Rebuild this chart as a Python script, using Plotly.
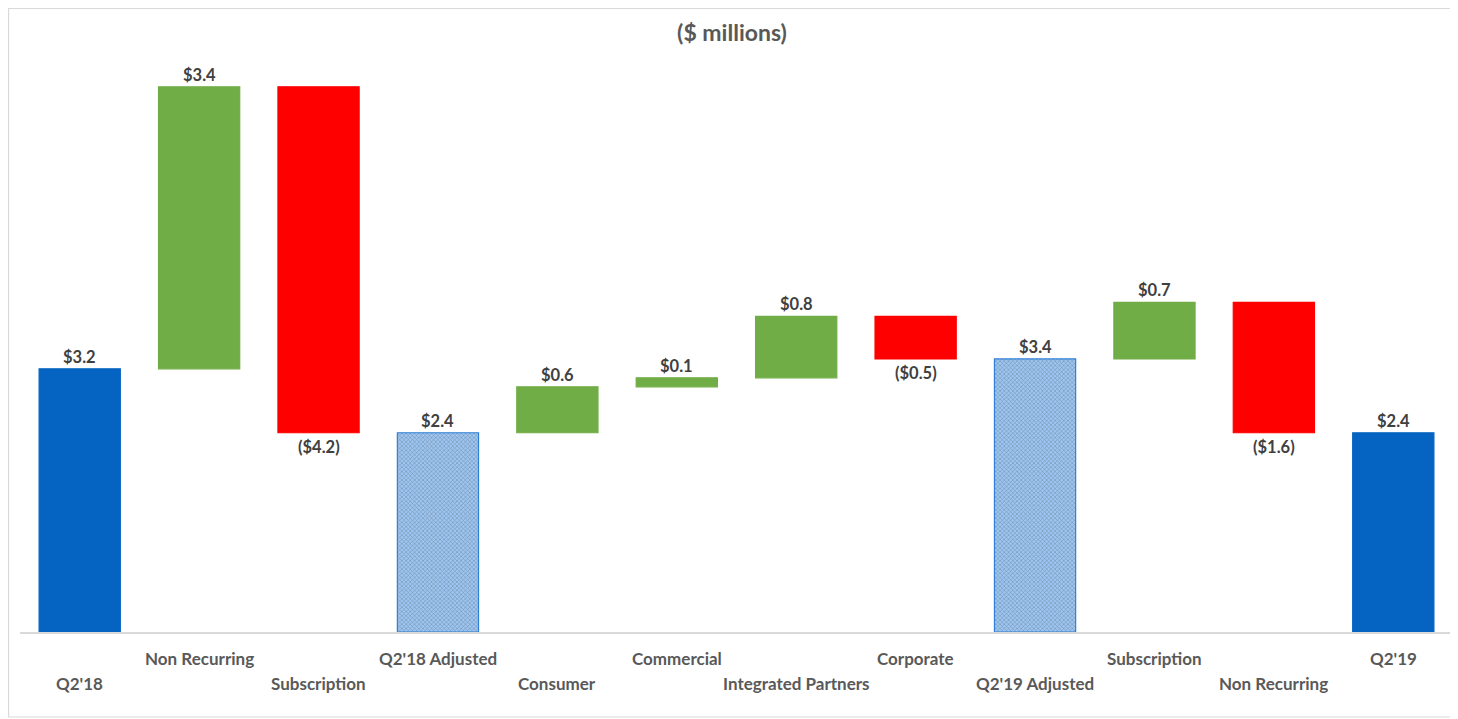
import plotly.graph_objects as go

categories = ["Q2'18", "Non Recurring", "Subscription", "Q2'18 Adjusted", "Consumer",
              "Commercial", "Integrated Partners", "Corporate", "Q2'19 Adjusted",
              "Subscription", "Non Recurring", "Q2'19"]
measures = ["absolute", "relative", "relative", "total", "relative", "relative",
            "relative", "relative", "total", "relative", "relative", "total"]
values = [3.21, 3.44, -4.22, None, 0.56, 0.11, 0.75, -0.52, None, 0.69, -1.59, None]
value_labels = ["$3.2", "$3.4", "($4.2)", "$2.4", "$0.6", "$0.1", "$0.8", "($0.5)",
                "$3.4", "$0.7", "($1.6)", "$2.4"]

# compute waterfall geometry
bases, heights = [], []
running = 0.0
for m, v in zip(measures, values):
    if m == "absolute":
        running = v
        bases.append(0.0); heights.append(v)
    elif m == "total":
        bases.append(0.0); heights.append(running)
    else:
        bases.append(running); heights.append(v)
        running += v

BLUE = "#0563c1"
GREEN = "#70ad47"
RED = "#ff0000"
colors, shapes, fgcolors, bgcolors, lines = [], [], [], [], []
for c, m, h in zip(categories, measures, heights):
    if m in ("absolute", "total"):
        if "Adjusted" in c:
            colors.append("#9cc6f3"); shapes.append("x"); fgcolors.append("#0a7af5")
            bgcolors.append("#cfe5ff"); lines.append("#2f7fd6")
        else:
            colors.append(BLUE); shapes.append(""); fgcolors.append(BLUE); bgcolors.append(BLUE); lines.append(BLUE)
    elif h >= 0:
        colors.append(GREEN); shapes.append(""); fgcolors.append(GREEN); bgcolors.append(GREEN); lines.append(GREEN)
    else:
        colors.append(RED); shapes.append(""); fgcolors.append(RED); bgcolors.append(RED); lines.append(RED)

xs = list(range(len(categories)))
fig = go.Figure()
fig.add_trace(go.Bar(
    x=xs, y=heights, base=bases, width=0.68,
    marker=dict(color=colors, line=dict(color=lines, width=1.2),
                pattern=dict(shape=shapes, fgcolor=fgcolors, bgcolor=bgcolors, size=3, solidity=0.3)),
    hoverinfo="skip", showlegend=False,
))

annotations = []
FONT = "Lato, Open Sans, sans-serif"
lab_font = dict(family=FONT, size=16.5, color="#404040")
for i, (b, h, lab) in enumerate(zip(bases, heights, value_labels)):
    top = b + h
    if h >= 0 or measures[i] != "relative":
        annotations.append(dict(x=i, y=max(b, top), xref="x", yref="y", text="<b>%s</b>" % lab,
                                showarrow=False, yanchor="bottom", font=lab_font, yshift=0))
    else:
        annotations.append(dict(x=i, y=top, xref="x", yref="y", text="<b>%s</b>" % lab,
                                showarrow=False, yanchor="top", font=lab_font, yshift=-2))

tick_font = dict(family=FONT, size=17, color="#595959")
for i, c in enumerate(categories):
    yy = -0.0892 if i % 2 == 0 else -0.0472
    annotations.append(dict(x=i, y=yy, xref="x", yref="paper", text="<b>%s</b>" % c,
                            showarrow=False, yanchor="middle", font=tick_font))

fig.update_layout(
    width=1450, height=711,
    margin=dict(l=12, r=5, t=52, b=87),
    paper_bgcolor="white", plot_bgcolor="white",
    title=dict(text="<b>($ millions)</b>", x=0.4993, xanchor="center", y=1 - 25 / 711, yanchor="middle",
               yref="container", font=dict(family=FONT, size=23, color="#595959")),
    xaxis=dict(range=[-0.5, 11.5], showticklabels=False, showgrid=False, zeroline=False,
               showline=True, linecolor="#d9d9d9", linewidth=1.5, ticks=""),
    yaxis=dict(range=[0, 6.976], visible=False, showgrid=False, zeroline=False),
    annotations=annotations,
    shapes=[dict(type="rect", xref="paper", yref="paper", x0=-0.0080, x1=0.9993, y0=-0.1486, y1=1.0900,
                 line=dict(color="#d9d9d9", width=1.2), fillcolor="rgba(0,0,0,0)", layer="below")],
)

fig.write_html("out.html")
